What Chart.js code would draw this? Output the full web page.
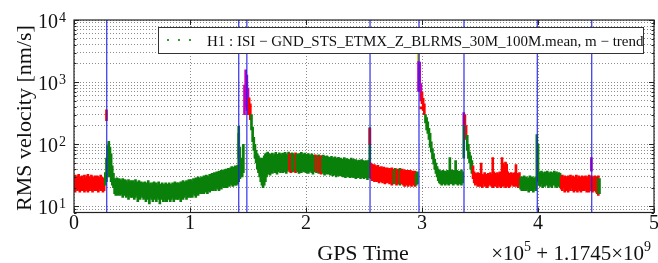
<!DOCTYPE html>
<html><head><meta charset="utf-8">
<script src="https://cdn.jsdelivr.net/npm/chart.js@4/dist/chart.umd.min.js"></script>
<style>html,body{margin:0;padding:0;background:#fff}#wrap{width:658px;height:263px;position:relative}</style>
</head><body><div id="wrap"><canvas id="c" width="658" height="263"></canvas></div>
<script>
// trend samples every 0.01 (x 1e5 s) starting at 0
const sampleStep = 0.01;
const rmsLow = [
19,17,20,18,19,17,18,20,18,17, 18,19,17,18,20,18,17,19,18,19,
18,17,19,18,19,17,18,22,25,30, 35,30,25,22,20,16,15,17,15,16,
15,16,14,15,16,14,15,13,15,14, 14,15,13,14,15,12,14,13,15,14,
13,14,12,14,13,11,14,13,12,14, 13,12,14,13,11,13,14,12,13,12,
12,14,13,12,13,14,12,13,14,13, 13,14,12,14,13,14,15,13,14,15,
14,15,14,16,15,14,16,15,17,16, 16,17,16,18,17,16,18,17,19,18,
18,19,18,20,19,18,20,19,21,20, 20,21,20,22,21,23,22,21,23,22,
22,23,25,28,30,30,35,300,400,350, 300,300,250,170,110,80,60,50,40,35,
30,25,22,20,22,25,30,33,35,32, 36,34,38,35,37,33,36,38,35,37,
35,38,36,34,37,39,36,35,38,36, 37,35,38,36,34,37,35,38,36,37,
35,37,34,36,38,35,33,36,37,35, 36,34,35,33,36,34,32,35,33,34,
33,32,34,31,33,32,30,33,31,32, 31,32,30,31,29,32,30,31,29,30,
30,29,31,28,30,29,31,28,30,29, 28,30,29,27,29,40,28,26,27,25,
26,25,27,24,26,25,24,26,23,25, 24,25,23,24,22,25,23,24,22,23,
23,22,24,23,22,21,23,22,21,23, 22,21,23,22,21,22,23,2150,700,500,
450,350,300,220,170,150,120,90,75,58, 48,40,34,30,26,24,23,22,24,23,
22,24,23,22,24,23,25,22,24,23, 23,22,24,23,22,24,200,160,120,80,
60,50,40,34,28,24,22,23,21,22, 21,22,20,23,21,22,20,21,23,22,
21,20,22,21,23,20,22,21,20,22, 21,22,20,21,22,20,21,23,22,21,
22,21,23,20,22,19,18,20,18,19, 18,19,17,18,20,18,17,19,18,25,
30,22,21,23,20,22,21,23,22,20, 22,21,20,22,23,21,20,22,21,20,
19,18,20,17,19,18,17,19,18,20, 18,17,19,18,17,19,18,17,19,18,
18,19,17,18,17,19,18,17,18,19, 17,16,15,16
];
const rmsHigh = [
30,32,28,31,33,29,30,31,28,32, 29,31,33,30,28,32,30,29,31,30,
31,30,29,32,30,28,29,35,60,95, 112,90,70,45,34,28,27,29,26,28,
27,26,28,25,27,26,24,27,25,26, 25,26,24,27,25,24,26,23,25,24,
24,25,23,24,26,23,24,22,24,25, 23,24,22,25,23,22,24,23,22,24,
23,22,24,23,22,24,23,25,23,24, 24,23,25,24,26,24,25,26,25,27,
26,27,25,28,27,29,28,30,28,29, 30,29,31,30,32,31,30,33,32,34,
33,35,34,36,35,37,36,38,37,39, 38,40,39,41,40,42,44,41,43,45,
44,46,195,90,60,55,100,900,1580,1300, 800,560,450,300,190,130,100,80,70,65,
60,60,55,60,65,70,72,75,68,70, 68,72,65,70,74,69,66,73,70,67,
72,69,74,70,67,75,71,68,73,70, 68,73,70,66,71,69,74,67,70,72,
69,66,71,68,65,70,67,64,68,66, 65,68,63,66,62,67,64,61,65,63,
62,60,64,59,61,63,58,60,62,59, 60,58,57,61,56,59,58,55,57,60,
56,58,54,57,55,53,56,54,57,55, 54,52,55,53,56,186,50,48,46,47,
45,44,46,43,42,44,41,43,42,40, 42,40,41,39,42,40,38,41,39,40,
39,41,38,40,37,39,38,36,38,37, 38,36,37,35,37,34,36,3100,2100,950,
700,550,450,300,270,230,180,150,110,85, 70,58,50,44,40,38,37,36,38,36,
37,35,38,36,61,39,36,38,37,55, 38,36,37,35,39,36,323,300,200,140,
100,75,65,55,45,36,34,33,35,32, 34,50,33,32,35,33,31,34,32,35,
33,61,36,34,32,35,33,36,34,61, 50,45,52,48,36,34,32,35,33,34,
35,47,34,33,35,29,30,28,31,29, 30,28,29,31,28,30,29,28,30,144,
100,36,34,37,35,33,36,34,37,35, 34,36,35,33,37,34,36,33,35,34,
30,32,29,31,30,28,31,30,32,29, 31,29,30,32,28,31,30,29,31,30,
30,31,29,30,32,29,31,30,28,31, 30,29,31,28
];
// state of each run of samples: R red, G green, M magenta, Y yellow
const stateRuns = [
['R',27],['G',120],['M',4],['R',2],['G',33],['R',2],['G',3],['R',1],['G',16],['R',1],
['G',1],['R',1],['G',1],['R',2],['G',42],['R',20],['G',2],['R',3],['G',1],['R',13],
['G',2],['Y',1],['M',2],['R',3],['G',33],['M',1],['R',2],['G',5],['R',41],['G',35],
['R',31],['G',1],['R',1],['G',1]
];
// extra overlapping samples at transitions
const extraTimes = [0.28, 2.55, 2.97, 2.99, 3.36, 4.46, 1.42];
const extraLow   = [240, 100, 710, 370, 60, 37, 60];
const extraHigh  = [360, 180, 2150, 400, 200, 61, 150];
const extraState = ['R','R','M','R','G','M','G'];
// segment boundaries (vertical lines)
const segmentTimes = [0.282, 1.42, 1.49, 2.552, 2.974, 3.362, 3.994, 4.463];
const xTickValues = [0, 1, 2, 3, 4, 5];
const xTickLabels = ['0', '1', '2', '3', '4', '5'];
const yGridValues = [8,9,10,20,30,40,50,60,70,80,90,100,200,300,400,500,600,700,800,900,
  1000,2000,3000,4000,5000,6000,7000,8000,9000,10000];
const yLabelExponents = [1, 2, 3, 4];
const legendText = 'H1 : ISI \u2212 GND_STS_ETMX_Z_BLRMS_30M_100M.mean, m \u2212 trend';

const stateColors = {R: '#ff0000', G: '#0a800a', M: '#bf00bf', Y: '#bfbf00'};
const Y_MIN = 8, Y_MAX = 10000;

const sampleColors = [];
stateRuns.forEach(([s, n]) => { for (let k = 0; k < n; k++) sampleColors.push(stateColors[s]); });
const mainData = rmsLow.map((lo, i) => ({x: i * sampleStep, y: [lo, rmsHigh[i]]}));
const extraData = extraTimes.map((t, i) => ({x: t, y: [extraLow[i], extraHigh[i]]}));
const lineData = [];
segmentTimes.forEach(t => { lineData.push({x: t, y: Y_MIN}, {x: t, y: Y_MAX}, {x: t, y: null}); });

const SERIF = '"Liberation Serif", "DejaVu Serif", serif';

const decorPlugin = {
  id: 'decor',
  afterDraw(chart) {
    const ctx = chart.ctx, a = chart.chartArea;
    const xs = chart.scales.x, ys = chart.scales.y;
    ctx.save();
    // ticks (inward)
    ctx.strokeStyle = '#222'; ctx.lineWidth = 1;
    ctx.beginPath();
    yGridValues.forEach(v => {
      const y = Math.round(ys.getPixelForValue(v)) + 0.5;
      const major = yLabelExponents.some(e => Math.pow(10, e) === v);
      const L = major ? 5 : 2.5;
      ctx.moveTo(a.left, y); ctx.lineTo(a.left + L, y);
      ctx.moveTo(a.right, y); ctx.lineTo(a.right - L, y);
    });
    xTickValues.forEach(v => {
      const x = Math.round(xs.getPixelForValue(v)) + 0.5;
      ctx.moveTo(x, a.bottom); ctx.lineTo(x, a.bottom - 5);
      ctx.moveTo(x, a.top); ctx.lineTo(x, a.top + 5);
    });
    ctx.stroke();
    // frame
    ctx.strokeStyle = '#222'; ctx.lineWidth = 1.2;
    ctx.strokeRect(a.left, a.top, a.right - a.left, a.bottom - a.top);
    // y tick labels 10^n
    ctx.fillStyle = '#111';
    yLabelExponents.forEach(e => {
      const y = ys.getPixelForValue(Math.pow(10, e));
      ctx.font = '20px ' + SERIF; ctx.textAlign = 'right'; ctx.textBaseline = 'alphabetic';
      ctx.fillText('10', 58, y + 8);
      ctx.font = '14px ' + SERIF; ctx.textAlign = 'left';
      ctx.fillText(String(e), 59, y + 1.5);
    });
    // x tick labels
    ctx.font = '20px ' + SERIF; ctx.textAlign = 'center'; ctx.textBaseline = 'alphabetic';
    xTickValues.forEach((v, i) => {
      ctx.fillText(xTickLabels[i], xs.getPixelForValue(v), 229);
    });
    // x title
    ctx.font = '22px ' + SERIF; ctx.textAlign = 'center';
    ctx.fillText('GPS Time', 363, 260);
    // offset text: x10^5 + 1.1745x10^9
    const parts = [['\u00d710', 21, 0], ['5', 14, -9], [' + 1.1745\u00d710', 21, 0], ['9', 14, -9]];
    let total = 0;
    parts.forEach(p => { ctx.font = p[1] + 'px ' + SERIF; total += ctx.measureText(p[0]).width; });
    let xx = 651 - total;
    ctx.textAlign = 'left';
    parts.forEach(p => { ctx.font = p[1] + 'px ' + SERIF; ctx.fillText(p[0], xx, 260 + p[2]); xx += ctx.measureText(p[0]).width; });
    // y title
    ctx.save();
    ctx.translate(31, 118); ctx.rotate(-Math.PI / 2);
    ctx.font = '22px ' + SERIF; ctx.textAlign = 'center'; ctx.textBaseline = 'alphabetic';
    ctx.fillText('RMS velocity [nm/s]', 0, 0);
    ctx.restore();
    // legend
    ctx.fillStyle = '#fff';
    ctx.fillRect(158.5, 27.5, 485, 26);
    ctx.strokeStyle = '#333'; ctx.lineWidth = 1;
    ctx.strokeRect(158.5, 27.5, 485, 26);
    ctx.fillStyle = stateColors.G;
    [168, 179, 190].forEach(x => { ctx.beginPath(); ctx.arc(x, 40, 1.1, 0, Math.PI * 2); ctx.fill(); });
    ctx.fillStyle = '#111';
    ctx.font = '15px ' + SERIF; ctx.textAlign = 'left'; ctx.textBaseline = 'alphabetic';
    ctx.fillText(legendText, 207, 45.5);
    ctx.restore();
  }
};

new Chart(document.getElementById('c'), {
  type: 'bar',
  data: {
    datasets: [
      {type: 'line', label: 'segments', data: lineData, borderColor: 'rgba(30,30,235,0.85)', borderWidth: 1.3,
       pointRadius: 0, spanGaps: false, order: 0, fill: false},
      {label: 'extra', data: extraData, backgroundColor: extraState.map(s => stateColors[s]),
       barThickness: 2, grouped: false, order: 1},
      {label: legendText, data: mainData, backgroundColor: sampleColors,
       barThickness: 2, grouped: false, order: 2}
    ]
  },
  options: {
    responsive: false, animation: false, devicePixelRatio: 1,
    layout: {padding: {left: 0, top: 20, right: 4, bottom: 0}},
    plugins: {legend: {display: false}, tooltip: {enabled: false}},
    scales: {
      x: {type: 'linear', min: 0, max: 5, offset: false,
          afterBuildTicks: s => { s.ticks = xTickValues.map(v => ({value: v})); },
          afterFit: s => { s.height = 50.5; },
          ticks: {display: false},
          grid: {offset: false, color: 'rgba(0,0,0,0.45)', lineWidth: 1, drawTicks: false},
          border: {display: false, dash: [1, 2]}},
      y: {type: 'logarithmic', min: Y_MIN, max: Y_MAX,
          afterBuildTicks: s => { s.ticks = yGridValues.map(v => ({value: v})); },
          afterFit: s => { s.width = 74; },
          ticks: {display: false},
          grid: {color: 'rgba(0,0,0,0.45)', lineWidth: 1, drawTicks: false},
          border: {display: false, dash: [1, 2]}}
    }
  },
  plugins: [decorPlugin]
});
</script></body></html>
